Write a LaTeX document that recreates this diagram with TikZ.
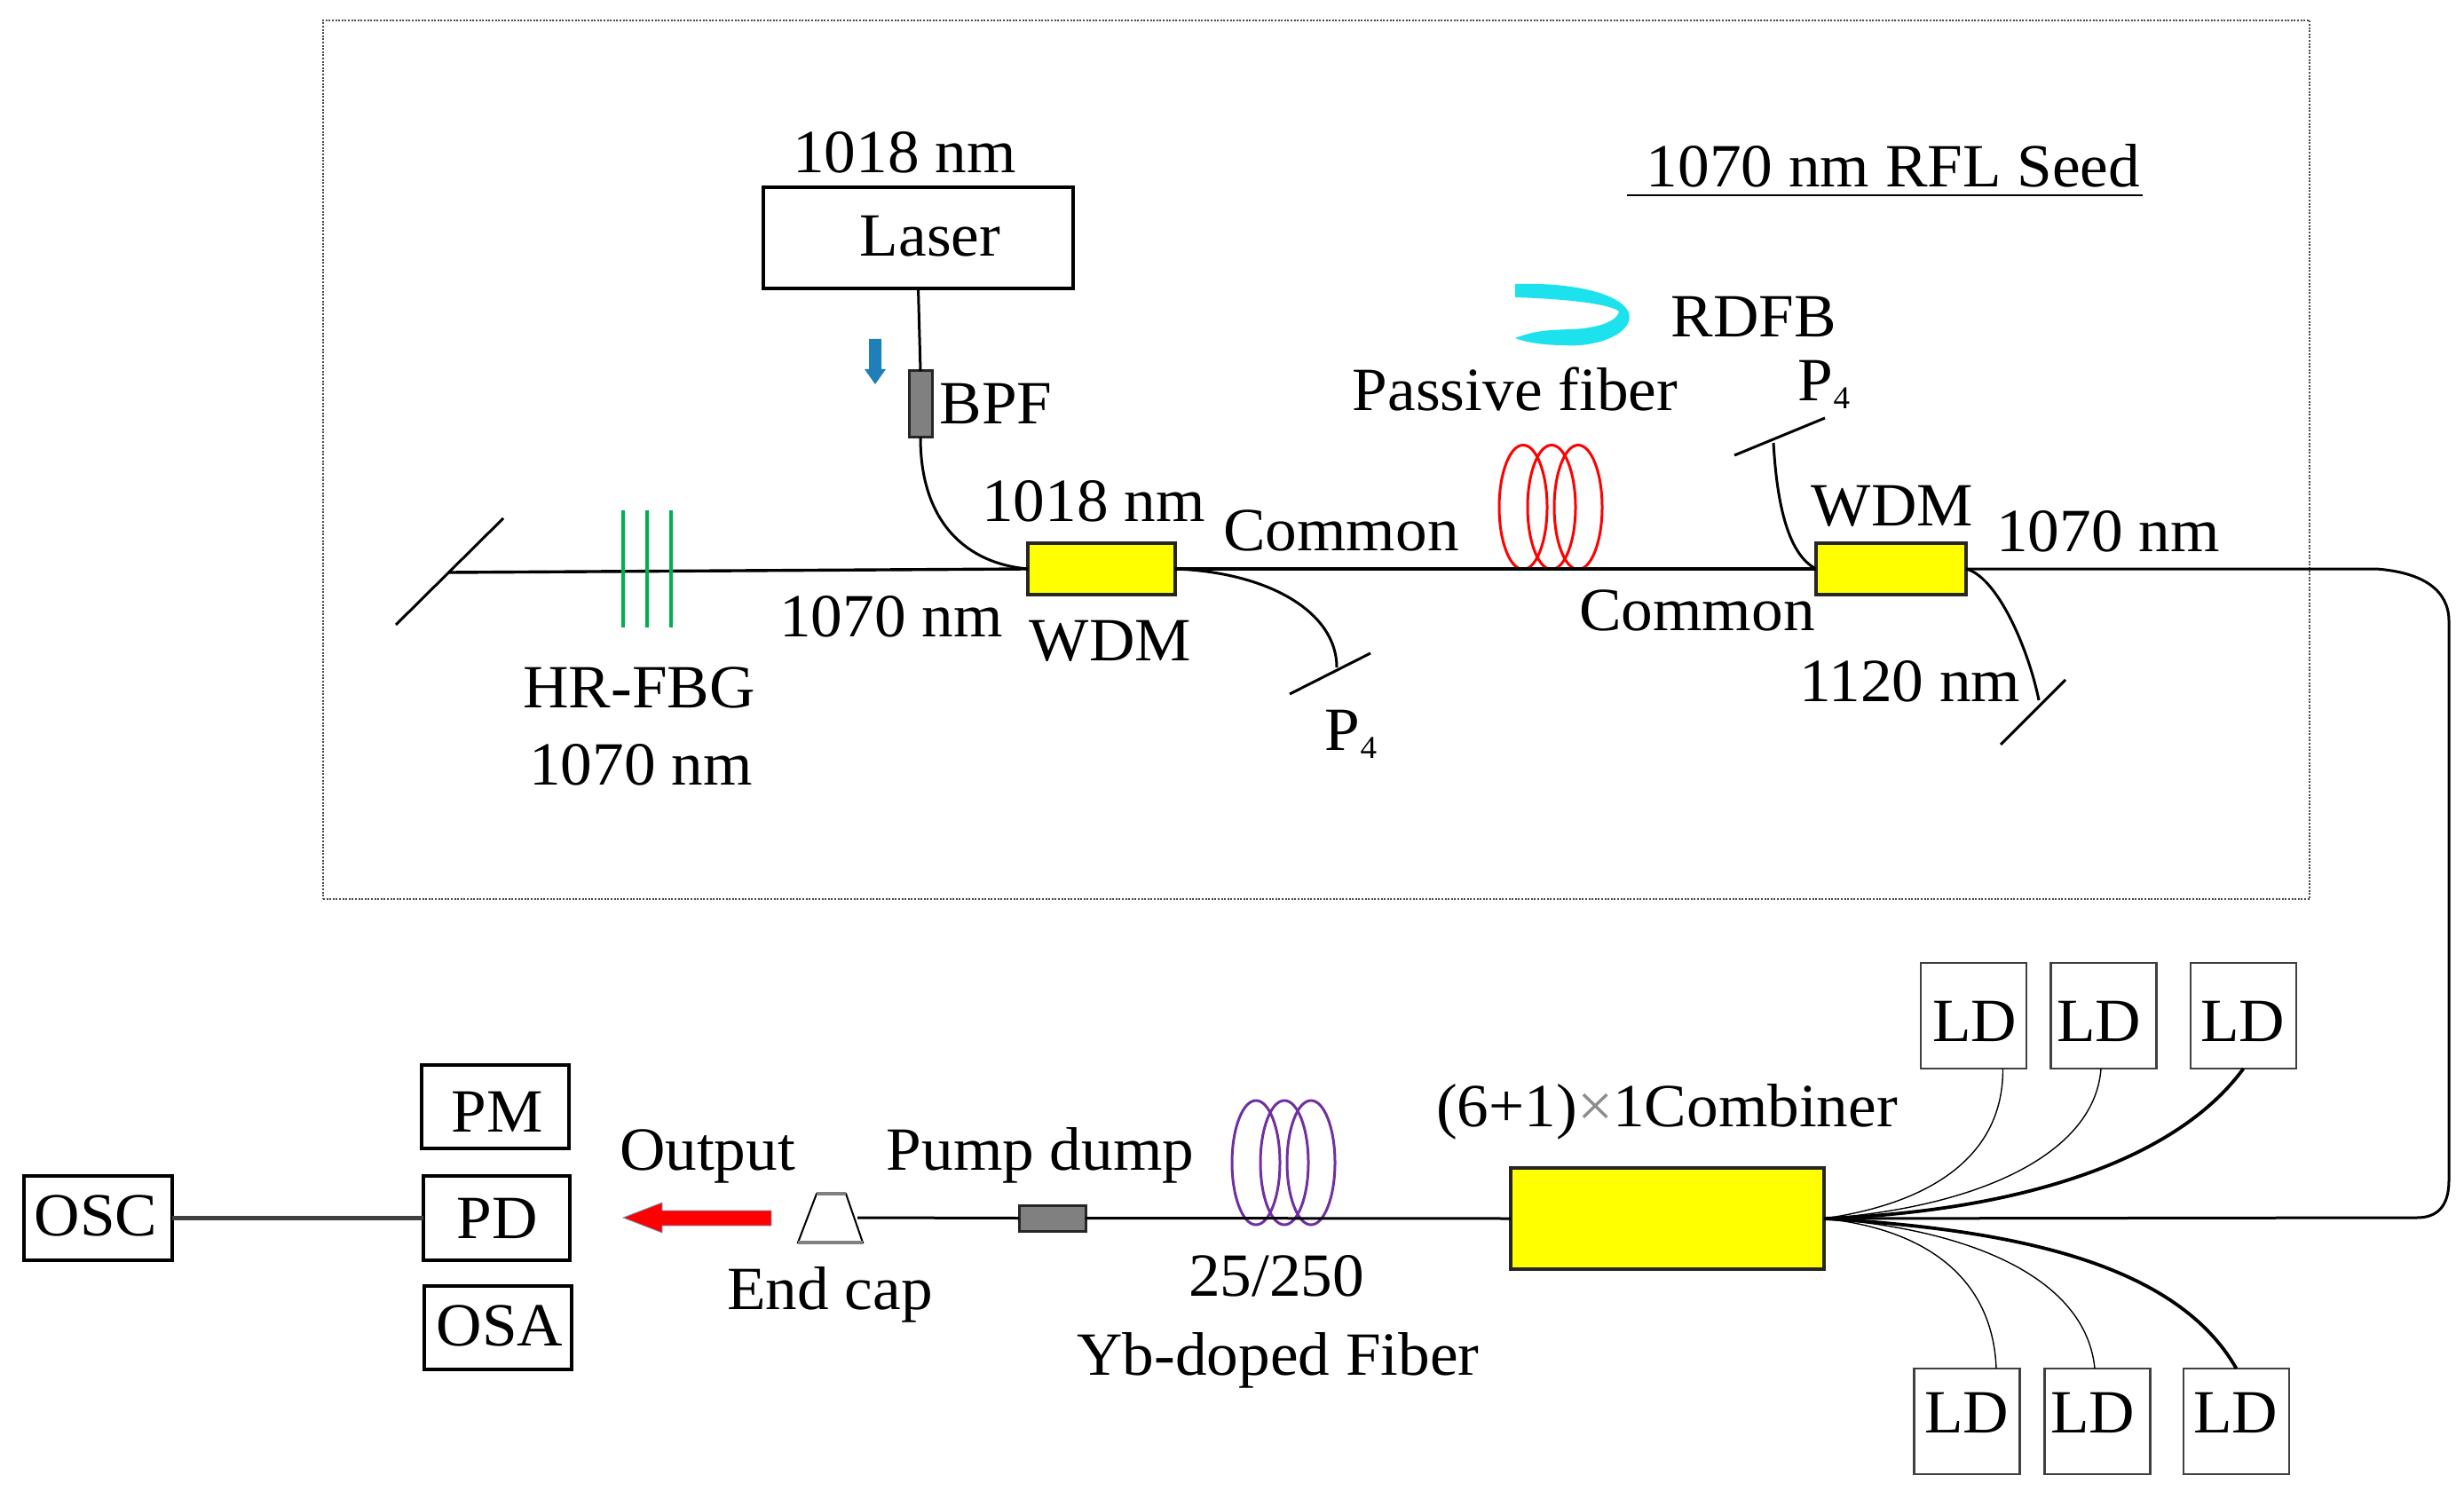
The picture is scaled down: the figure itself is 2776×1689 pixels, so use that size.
\documentclass[tikz,border=0pt]{standalone}
\usepackage{fontspec}
\setmainfont{Liberation Serif}[FakeStretch=1.03]
\definecolor{fbg}{HTML}{00B050}
\definecolor{coilp}{HTML}{7030A0}
\definecolor{ribbon}{HTML}{1CE2EE}
\definecolor{flow}{HTML}{1F7FB8}
\definecolor{bdr}{HTML}{404040}
\definecolor{yel}{RGB}{255,255,0}
\definecolor{redd}{RGB}{255,0,0}
\tikzset{
  lab/.style={font=\fontsize{34.6}{39}\selectfont,inner sep=0pt,outer sep=0pt,anchor=base,text=black},
  wh/.style 2 args={minimum width=#1*0.5pt,minimum height=#2*0.5pt,inner sep=0pt,outer sep=0pt},
  box/.style={draw=black,line width=1.6pt,fill=white},
  ldbox/.style={draw=bdr,line width=1.4pt,fill=white,wh={119}{119}},
  ybox/.style={draw=black!85,line width=1.7pt,fill=yel},
  gbox/.style={draw=black!85,line width=1.5pt,fill=black!50},
  fiber/.style={draw=black,line width=1.5pt},
  thin fiber/.style={draw=black,line width=0.7pt},
  thick fiber/.style={draw=black,line width=1.9pt},
  mirror/.style={draw=black,line width=1.5pt},
  coilr/.style={draw=redd,line width=1.5pt},
  coilv/.style={draw=coilp,line width=1.5pt}
}
\newcommand{\pfour}{P{\fontsize{18}{18}\selectfont\raisebox{-4.5pt}{4}}}
\begin{document}
\begin{tikzpicture}[x=0.5pt,y=-0.5pt]
\useasboundingbox (0,0) rectangle (2776,1689);
% frame
\node[draw=black!70,dash pattern=on 1pt off 0.8pt,line width=1pt,wh={2238}{990}] (frame) at (1483,518) {};
% coordinates
\coordinate (ml) at (506,645);
\coordinate (m1a) at (567,584); \coordinate (m1b) at (446,704);
\coordinate (m2a) at (1954,513); \coordinate (m2b) at (2056,471); \coordinate (m2c) at (1998,499);
\coordinate (m3a) at (1544,736); \coordinate (m3b) at (1453,782); \coordinate (m3c) at (1506,752);
\coordinate (m4a) at (2327,766); \coordinate (m4b) at (2254,839); \coordinate (m4c) at (2297,789);
\coordinate (ul1) at (1833,220); \coordinate (ul2) at (2414,220);
\coordinate (ec) at (966,1372);
% components
\node[box,wh={349}{114}] (laser) at (1034.5,268) {};
\node[gbox,wh={26}{75}] (bpf) at (1037,455.5) {};
\node[ybox,wh={166}{58}] (wdma) at (1241,641) {};
\node[ybox,wh={169}{58}] (wdmb) at (2130.5,641) {};
\node[ybox,wh={353}{114},line width=2pt] (comb) at (1878.5,1373) {};
\node[gbox,wh={75}{29}] (pd1) at (1185.5,1372.5) {};
\node[box,wh={166}{94}] (pm) at (558,1247) {};
\node[box,wh={165}{95}] (pdet) at (559.5,1372.5) {};
\node[box,wh={166}{94}] (osa) at (561,1496) {};
\node[box,wh={167}{95}] (osc) at (110.5,1372.5) {};
\node[ldbox,minimum height=59.5pt] (lda) at (2223.5,1144.5) {};
\node[ldbox,minimum height=59.5pt] (ldb) at (2370,1144.5) {};
\node[ldbox,minimum height=59.5pt] (ldc) at (2527.5,1144.5) {};
\node[ldbox,minimum height=59.5pt] (ldd) at (2216,1601.5) {};
\node[ldbox,minimum height=59.5pt] (lde) at (2363,1601.5) {};
\node[ldbox,minimum height=59.5pt] (ldf) at (2519.5,1601.5) {};
% coils
\foreach \c in {1716,1748,1778} \draw[coilr] (\c,571.5) ellipse [x radius=27,y radius=70];
\foreach \c in {1415,1447,1477} \draw[coilv] (\c,1310) ellipse [x radius=27,y radius=70];
% connectors
\draw[fiber] (laser.south) -- (bpf.north);
\draw[fiber] (bpf.south) .. controls (1037,590) and (1090,635) .. (wdma.west);
\draw[fiber,line width=1.7pt] (ml) -- (wdma.west);
\draw[fiber,line width=1.7pt] (wdma.east) -- (wdmb.west);
\draw[fiber] (wdma.east) .. controls (1430,645) and (1506,690) .. (m3c);
\draw[fiber] (m2c) .. controls (2002,570) and (2015,625) .. (wdmb.west);
\draw[fiber] (wdmb.east) .. controls (2250,650) and (2285,730) .. (m4c);
\draw[fiber] (wdmb.east) -- (2677,641) .. controls (2730,645) and (2759,665) .. (2759,700)
  -- (2759,1330) .. controls (2759,1360) and (2745,1372) .. (2723,1372) -- (comb.east);
\draw[fiber] (ec) -- (pd1.west);
\draw[fiber] (pd1.east) -- (comb.west);
\draw[draw=black!75,line width=2.4pt] (osc.east) -- (pdet.west);
\draw[thin fiber] ([xshift=16.5pt]lda.south) .. controls (2257,1300) and (2180,1355) .. (comb.east);
\draw[thin fiber] ([xshift=-1.5pt]ldb.south) .. controls (2360,1300) and (2230,1360) .. (comb.east);
\draw[thick fiber] (ldc.south) .. controls (2450,1310) and (2270,1365) .. (comb.east);
\draw[thin fiber] ([xshift=16.5pt]ldd.north) .. controls (2245,1440) and (2170,1385) .. (comb.east);
\draw[thin fiber] ([xshift=-1.5pt]lde.north) .. controls (2350,1440) and (2220,1385) .. (comb.east);
\draw[thick fiber] (ldf.north) .. controls (2450,1420) and (2260,1385) .. (comb.east);
% mirrors
\draw[mirror] (m1a) -- (m1b);
\draw[mirror] (m2a) -- (m2b);
\draw[mirror] (m3a) -- (m3b);
\draw[mirror] (m4a) -- (m4b);
% FBG
\foreach \c in {702,729,756} \draw[draw=fbg,line width=1.6pt] (\c,575) -- (\c,707);
% underline
\draw[line width=1.2pt] (ul1) -- (ul2);
% blue arrow
\fill[flow] (979,382) -- (993,382) -- (993,416) -- (998,416) -- (986,433) -- (974,416) -- (979,416) -- cycle;
% red arrow
\fill[redd,draw=flow!70,line width=0.4pt] (702,1372) -- (746,1355) -- (746,1364) -- (869,1364) -- (869,1381) -- (746,1381) -- (746,1389) -- cycle;
% end cap
\draw[draw=black,line width=1pt,fill=white] (920,1345) -- (953,1345) -- (972,1400) -- (899,1400) -- cycle;
\draw[draw=black!50,line width=2pt] (920,1345) -- (953,1345);
\draw[draw=black!50,line width=2pt] (899,1400) -- (972,1400);
% ribbon
\fill[ribbon] (1707,320) .. controls (1770,318) and (1825,330) .. (1835,352) .. controls (1842,375) and (1800,392) .. (1762,389) .. controls (1740,389) and (1720,386) .. (1707,381) .. controls (1730,372) and (1745,372) .. (1770,371) .. controls (1800,370) and (1822,362) .. (1824,351) .. controls (1815,343) and (1770,337) .. (1707,335) -- cycle;
% labels
\node[lab] (t1) at (1019,195) {1018 nm};
\node[lab] (t2) at (1048,289) {Laser};
\node[lab] (t3) at (1122,478) {BPF};
\node[lab] (t4) at (1232,588) {1018 nm};
\node[lab] (t5) at (1004,717) {1070 nm};
\node[lab] (t6) at (1251,744) {WDM};
\node[lab] (t7) at (720,797) {HR-FBG};
\node[lab] (t8) at (722,884) {1070 nm};
\node[lab] (t9) at (2133,211) {1070 nm RFL Seed};
\node[lab] (t10) at (1976,380) {RDFB};
\node[lab] (t11) at (1707,463) {Passive fiber};
\node[lab] (t12) at (2055,452) {\pfour};
\node[lab] (t13) at (1522,845) {\pfour};
\node[lab] (t14) at (1511,620) {Common};
\node[lab] (t15) at (1912,710) {Common};
\node[lab] (t16) at (2132,593) {WDM};
\node[lab] (t17) at (2375,621) {1070 nm};
\node[lab] (t18) at (2152,790) {1120 nm};
\node[lab] (t19) at (1878,1269) {(6+1)\textcolor{black!45}{×}1Combiner};
\node[lab] (t20) at (797,1318) {Output};
\node[lab] (t21) at (1172,1318) {Pump dump};
\node[lab] (t22) at (935,1475) {End cap};
\node[lab] (t23) at (1438,1460) {25/250};
\node[lab] (t24) at (1440,1549) {Yb-doped Fiber};
\node[lab] (t25) at (560,1275) {PM};
\node[lab] (t26) at (560,1395) {PD};
\node[lab] (t27) at (563,1516) {OSA};
\node[lab] (t28) at (108,1392) {OSC};
\node[lab] (t29) at (2224.5,1173) {LD};
\node[lab] (t30) at (2364.5,1173) {LD};
\node[lab] (t31) at (2526.5,1173) {LD};
\node[lab] (t32) at (2215.5,1614) {LD};
\node[lab] (t33) at (2357.5,1614) {LD};
\node[lab] (t34) at (2518.5,1614) {LD};
\end{tikzpicture}
\end{document}
